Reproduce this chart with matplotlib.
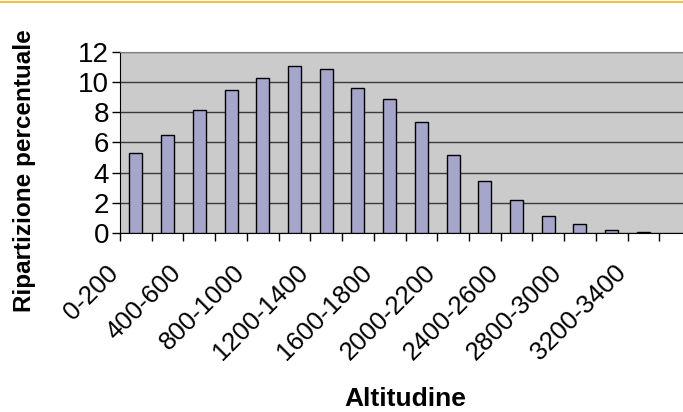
import numpy as np
import matplotlib
matplotlib.use("Agg")
from matplotlib import pyplot as plt
from matplotlib.lines import Line2D
from matplotlib.transforms import ScaledTranslation

plt.rcParams['font.family'] = ['Liberation Sans', 'DejaVu Sans']

# altitude classes (m) and percentage share
fasce = ["0-200", "200-400", "400-600", "600-800", "800-1000", "1000-1200",
         "1200-1400", "1400-1600", "1600-1800", "1800-2000", "2000-2200",
         "2200-2400", "2400-2600", "2600-2800", "2800-3000", "3000-3200",
         "3200-3400"]
percentuale = [5.29, 6.50, 8.11, 9.45, 10.26, 11.06, 10.88, 9.60, 8.85,
               7.38, 5.18, 3.44, 2.18, 1.12, 0.59, 0.22, 0.07]
y_ticks = [0, 2, 4, 6, 8, 10, 12]

fig = plt.figure(figsize=(6.83, 4.12), dpi=100)
ax = fig.add_axes([120 / 683, 179 / 412, 571 / 683, 181.3 / 412])
ax.set_facecolor('#cbcbcb')

x = np.arange(len(fasce))
ax.bar(x, percentuale, width=0.41, color='#a6a6cc', edgecolor='black',
       linewidth=1, zorder=3)

ax.set_ylim(0, 12)
ax.set_xlim(-0.5, len(fasce) + 0.5)
ax.set_yticks(y_ticks)
ax.set_yticklabels([str(v) for v in y_ticks], fontsize=20)
ax.yaxis.grid(True, color='#3a3a3a', linewidth=1, zorder=1)

# ticks between the categories, labels on every other class
ax.set_xticks(np.arange(len(fasce) + 1) - 0.5, minor=False)
ax.set_xticklabels([])
ax.set_xticks(x[::2], minor=True)
labs = ax.set_xticklabels(fasce[::2], minor=True, rotation=45, ha='right',
                          va='top', fontsize=18.5)
ax.tick_params(axis='x', which='major', length=6, width=1, color='black')
ax.tick_params(axis='x', which='minor', length=0, pad=20)
ax.tick_params(axis='y', length=6, width=1, pad=2)

shift = ScaledTranslation(-13 / 100, 0, fig.dpi_scale_trans)
for lab in labs:
    lab.set_transform(lab.get_transform() + shift)

ax.spines['right'].set_visible(False)
ax.spines['top'].set_color('#808080')
ax.spines['left'].set_color('black')
ax.spines['bottom'].set_color('black')

fig.text(25 / 683, 1 - 171 / 412, "Ripartizione percentuale", rotation=90,
         ha='center', va='center', fontsize=17.5, fontweight='bold')
fig.text(405 / 683, 0.5 / 412, "Altitudine", ha='center', va='bottom',
         fontsize=19, fontweight='bold')

fig.add_artist(Line2D([0, 1], [1 - 1.5 / 412, 1 - 1.5 / 412],
                      color='#f0c040', linewidth=1.5))

fig.savefig("out.png", dpi=100)
